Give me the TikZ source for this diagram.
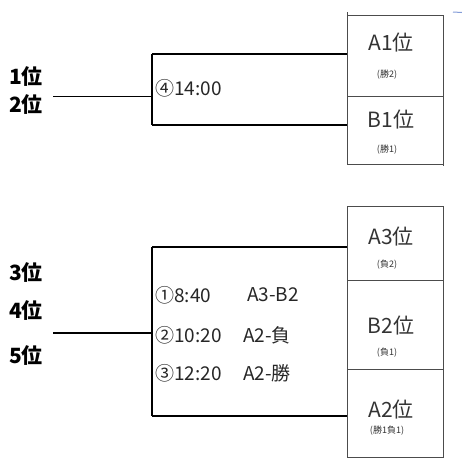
\documentclass[tikz,border=0pt]{standalone}
\usepackage{fontspec}
\setmainfont{Noto Sans CJK JP}
\begin{document}
\begin{tikzpicture}[x=1pt,y=-1pt,
  rbox/.style={draw=black!70, line width=0.8pt},
  bracket/.style={draw=black, line width=1.6pt},
  lead/.style={draw=black, line width=0.9pt},
  rank/.style={anchor=west, font=\bfseries\fontsize{21}{21}\selectfont, inner sep=0pt},
  sched/.style={anchor=west, font=\fontsize{19}{19}\selectfont, text=black!85, inner sep=0pt},
  team/.style={font=\fontsize{21}{21}\selectfont, text=black!80, inner sep=0pt},
  note/.style={font=\fontsize{9}{9}\selectfont, text=black!80, inner sep=0pt}]
\useasboundingbox (0,0) rectangle (462,459);
% ---------- top group ----------
\draw[rbox] (347,12) -- (347,164);
\draw[rbox] (347,15) -- (443,15) -- (443,166);
\draw[rbox] (347,96) -- (443,96);
\draw[rbox] (347,164) -- (443,164);
\draw[draw=cyan!40!blue!50, line width=1pt] (453,12) -- (462,12.5);
% bracket
\coordinate (bt1) at (152,54);
\coordinate (bt2) at (347,54);
\coordinate (bb1) at (152,125);
\coordinate (bb2) at (347,125);
\draw[bracket] (bt2) -- (bt1);
\draw[bracket] (bb2) -- (bb1);
\draw[draw=black, line width=1.2pt] (bt1) -- (bb1);
\coordinate (lt0) at (53,96);
\coordinate (lt1) at (152,96);
\draw[lead] (lt0) -- (lt1);
\node[rank] (r1) at (9,77) {1位};
\node[rank] (r2) at (9,105) {2位};
\node[sched] (s4) at (155,88) {④14:00};
\node[team] (A1) at (391,43) {A1位};
\node[note] (A1n) at (387,75) {(勝2)};
\node[team] (B1) at (391,120) {B1位};
\node[note] (B1n) at (387,150) {(勝1)};
% ---------- bottom group ----------
\draw[rbox] (347,206) -- (443,206) -- (443,457) -- (347,457) -- cycle;
\draw[rbox] (347,280) -- (443,280);
\draw[rbox] (347,369) -- (443,369);
\coordinate (ct1) at (152,247);
\coordinate (ct2) at (347,247);
\coordinate (cb1) at (152,416);
\coordinate (cb2) at (347,416);
\draw[draw=black, line width=1.3pt] (ct2) -- (ct1);
\draw[draw=black, line width=1.3pt] (cb2) -- (cb1);
\draw[draw=black, line width=1.1pt] (ct1) -- (cb1);
\coordinate (lc0) at (53,333);
\coordinate (lc1) at (152,333);
\draw[draw=black, line width=1.2pt] (lc0) -- (lc1);
\node[rank] (r3) at (9,272) {3位};
\node[rank] (r4) at (9,310) {4位};
\node[rank] (r5) at (9,355) {5位};
\node[sched] (s1) at (155,295) {①8:40};
\node[sched] (s1b) at (247,295) {A3-B2};
\node[sched] (s2) at (155,335) {②10:20};
\node[sched] (s2b) at (243,335) {A2-負};
\node[sched] (s3) at (155,373) {③12:20};
\node[sched] (s3b) at (243,373) {A2-勝};
\node[team] (A3) at (391,237) {A3位};
\node[note] (A3n) at (387,265) {(負2)};
\node[team] (B2) at (391,326) {B2位};
\node[note] (B2n) at (387,353) {(負1)};
\node[team] (A2) at (391,410) {A2位};
\node[note] (A2n) at (387,431) {(勝1負1)};
\end{tikzpicture}
\end{document}
